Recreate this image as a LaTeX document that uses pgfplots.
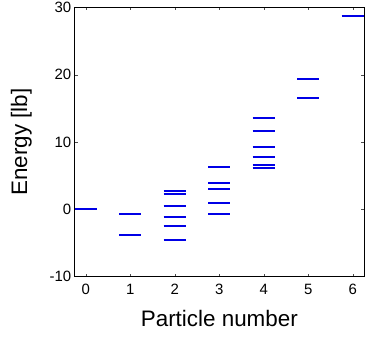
\documentclass[border=0pt]{standalone}
\usepackage{fontspec}
\setmainfont{Liberation Sans}
\usepackage{pgfplots}
\pgfplotsset{compat=1.18}

\begin{document}
\begin{tikzpicture}
\useasboundingbox (-74.7bp,-66.3bp) rectangle (299.3bp,276.7bp);
\begin{axis}[
  at={(0,0)}, anchor=south west,
  scale only axis, width=289.3bp, height=269.2bp,
  xmin=-0.25, xmax=6.25, ymin=-10, ymax=30,
  xtick={0,1,2,3,4,5,6}, ytick={-10,0,10,20,30},
  tick align=inside, major tick length=3bp,
  tick style={black!70, line width=0.5pt},
  axis line style={black, line width=0.8pt},
  xlabel={Particle number}, ylabel={Energy [lb]},
  /pgf/number format/assume math mode=true,
  tick label style={font=\fontsize{15}{17}\selectfont},
  label style={font=\fontsize{22.5}{26}\selectfont},
  xticklabel style={yshift=-4bp},
  xlabel style={yshift=-9bp},
  ylabel style={yshift=11bp},
  unbounded coords=jump,
]
\addplot[color={rgb,255:red,0;green,0;blue,230}, line width=2bp, mark=none] coordinates {
  (-0.25,0.0) (0.25,0.0) (0,nan)
  (0.75,-0.7) (1.25,-0.7) (1,nan)
  (0.75,-3.8) (1.25,-3.8) (1,nan)
  (1.75,2.8) (2.25,2.8) (2,nan)
  (1.75,2.3) (2.25,2.3) (2,nan)
  (1.75,0.5) (2.25,0.5) (2,nan)
  (1.75,-1.2) (2.25,-1.2) (2,nan)
  (1.75,-2.5) (2.25,-2.5) (2,nan)
  (1.75,-4.6) (2.25,-4.6) (2,nan)
  (2.75,6.25) (3.25,6.25) (3,nan)
  (2.75,3.85) (3.25,3.85) (3,nan)
  (2.75,3.05) (3.25,3.05) (3,nan)
  (2.75,0.9) (3.25,0.9) (3,nan)
  (2.75,-0.7) (3.25,-0.7) (3,nan)
  (3.75,13.55) (4.25,13.55) (4,nan)
  (3.75,11.6) (4.25,11.6) (4,nan)
  (3.75,9.2) (4.25,9.2) (4,nan)
  (3.75,7.8) (4.25,7.8) (4,nan)
  (3.75,6.65) (4.25,6.65) (4,nan)
  (3.75,6.15) (4.25,6.15) (4,nan)
  (4.75,19.4) (5.25,19.4) (5,nan)
  (4.75,16.5) (5.25,16.5) (5,nan)
  (5.75,28.75) (6.25,28.75)
};
\end{axis}
\end{tikzpicture}
\end{document}
